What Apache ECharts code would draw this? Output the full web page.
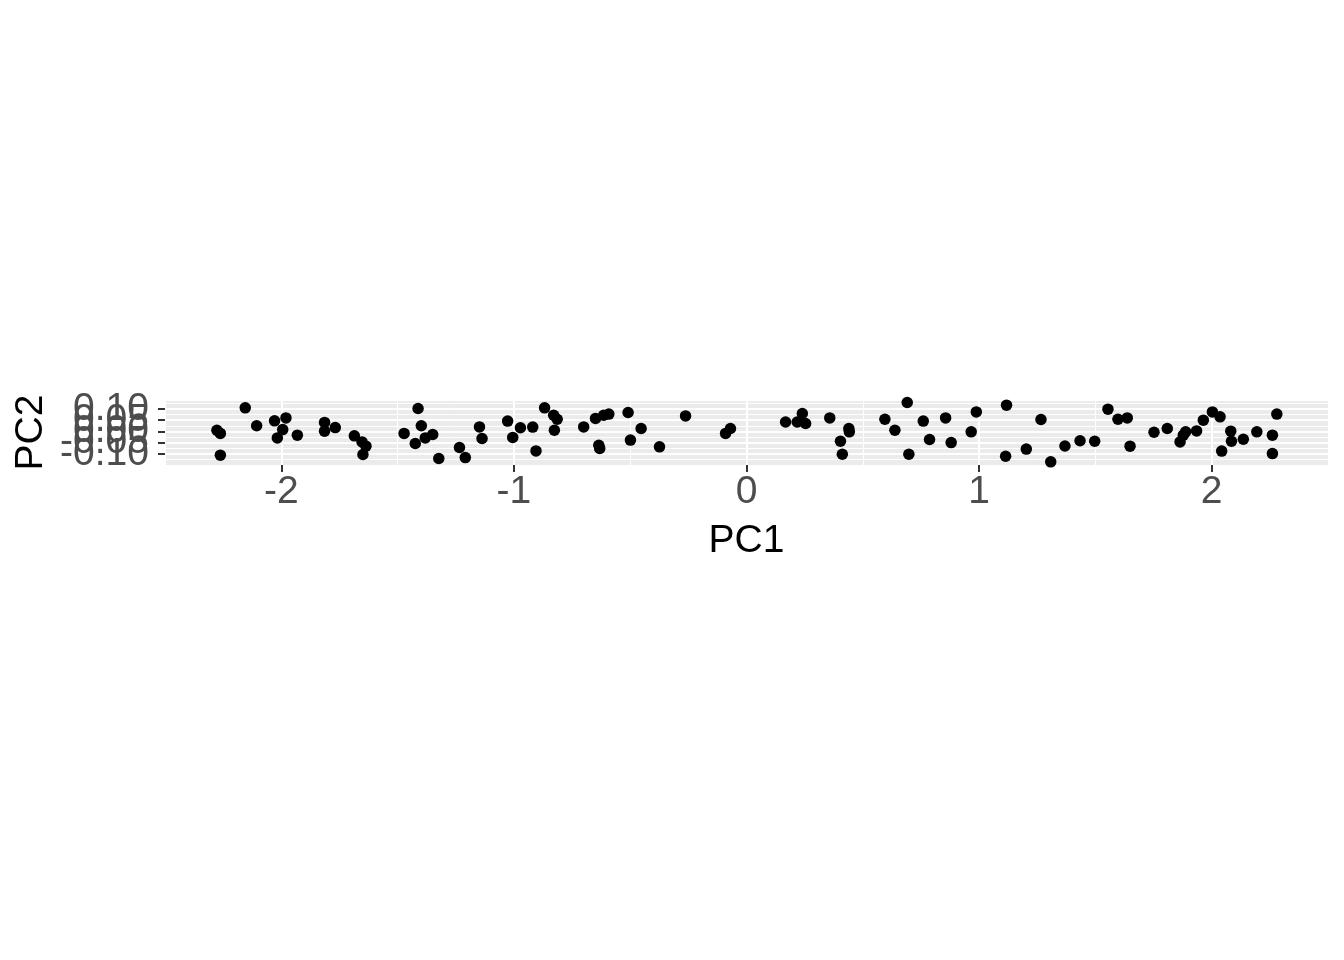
<!DOCTYPE html>
<html>
<head>
<meta charset="utf-8">
<title>PC1 vs PC2</title>
<script src="https://cdn.jsdelivr.net/npm/echarts@6/dist/echarts.min.js"></script>
<style>
  html, body { margin: 0; padding: 0; background: #fff; }
  #main { width: 1344px; height: 960px; }
</style>
</head>
<body>
<div id="main"></div>
<script>
  // values
  var pc1 = [
    -2.277, -2.262, -2.262, -2.155, -2.106, -2.029, -1.980, -1.994, -2.017, -1.931,
    -1.814, -1.814, -1.768, -1.686, -1.653, -1.636, -1.649, -1.472, -1.412, -1.398,
    -1.424, -1.381, -1.349, -1.323, -1.234, -1.209, -1.148, -1.137, -1.027, -1.005,
    -0.972, -0.919, -0.905, -0.868, -0.829, -0.814, -0.826, -0.700, -0.649, -0.614,
    -0.592, -0.635, -0.631, -0.509, -0.499, -0.453, -0.374, -0.262, -0.090, -0.069,
    0.168, 0.218, 0.240, 0.254, 0.358, 0.404, 0.440, 0.442, 0.412, 0.595,
    0.638, 0.691, 0.698, 0.760, 0.787, 0.856, 0.880, 0.966, 0.988, 1.118,
    1.114, 1.203, 1.266, 1.308, 1.369, 1.434, 1.497, 1.554, 1.597, 1.637,
    1.649, 1.752, 1.809, 1.864, 1.878, 1.888, 1.935, 1.964, 2.003, 2.036,
    2.043, 2.082, 2.085, 2.136, 2.194, 2.261, 2.280, 2.261
  ];
  var pc2 = [
    0.005, -0.009, -0.106, 0.105, 0.025, 0.047, 0.060, 0.008, -0.029, -0.017,
    0.040, 0.001, 0.017, -0.020, -0.047, -0.066, -0.103, -0.009, 0.102, 0.025,
    -0.054, -0.029, -0.014, -0.121, -0.072, -0.117, 0.020, -0.032, 0.046, -0.027,
    0.016, 0.019, -0.087, 0.105, 0.072, 0.054, 0.005, 0.020, 0.058, 0.072,
    0.077, -0.062, -0.076, 0.084, -0.039, 0.013, -0.069, 0.069, -0.009, 0.013,
    0.042, 0.042, 0.080, 0.035, 0.060, -0.044, 0.013, -0.002, -0.102, 0.054,
    0.005, 0.129, -0.102, 0.046, -0.036, 0.060, -0.050, -0.002, 0.087, 0.117,
    -0.111, -0.079, 0.053, -0.136, -0.065, -0.042, -0.044, 0.099, 0.054, 0.060,
    -0.066, -0.004, 0.013, -0.047, -0.017, -0.002, 0.002, 0.050, 0.087, 0.065,
    -0.088, 0.001, -0.044, -0.035, -0.002, -0.017, 0.077, -0.099
  ];
  var xTicks = [-2, -1, 0, 1, 2];
  var yTicks = [0, 0.1, -0.1, 0.05, -0.05];

  var points = pc1.map(function (v, i) { return [v, pc2[i]]; });

  var font = 'Liberation Sans, Arial, Helvetica, sans-serif';
  var chart = echarts.init(document.getElementById('main'));

  // the y labels overlap like in the original, so each gets its own axis
  // (otherwise echarts drops the crowded ones)
  var yAxes = yTicks.map(function (t, i) {
    return {
      type: 'value', min: -0.15, max: 0.14, position: 'left',
      name: i === 0 ? 'PC2' : '', nameLocation: 'middle', nameGap: 114, nameRotate: 90,
      nameTextStyle: { color: '#000', fontSize: 39, fontFamily: font },
      axisLine: { show: false, onZero: false },
      axisTick: { show: true, length: 7, customValues: [t], lineStyle: { color: '#333', width: 2 } },
      axisLabel: { customValues: [t], showMinLabel: true, showMaxLabel: true,
        margin: 16, color: '#4D4D4D', fontSize: 39, fontFamily: font,
        formatter: function (v) { return v.toFixed(2); } },
      splitLine: { show: true, lineStyle: { color: '#fff', width: 2 } }
    };
  });
  // minor grid lines
  yAxes.push({
    type: 'value', min: -0.15, max: 0.14, interval: 0.025, position: 'right',
    axisLine: { show: false, onZero: false }, axisTick: { show: false }, axisLabel: { show: false },
    splitLine: { show: true, lineStyle: { color: '#fff', width: 1 } }
  });

  var option = {
    backgroundColor: '#ffffff',
    animation: false,
    grid: {
      left: 165, right: 16, top: 400, height: 65,
      show: true, backgroundColor: '#EBEBEB', borderWidth: 0
    },
    xAxis: [
      {
        type: 'value', min: -2.5, max: 2.5,
        name: 'PC1', nameLocation: 'middle', nameGap: 57,
        nameTextStyle: { color: '#000', fontSize: 39, fontFamily: font },
        axisLine: { show: false, onZero: false },
        axisTick: { show: true, length: 7, customValues: xTicks, lineStyle: { color: '#333', width: 2 } },
        axisLabel: { customValues: xTicks, showMinLabel: true, showMaxLabel: true,
          margin: 8, color: '#4D4D4D', fontSize: 39, fontFamily: font },
        splitLine: { show: true, lineStyle: { color: '#fff', width: 2 } }
      },
      {
        // minor grid lines
        type: 'value', min: -2.5, max: 2.5, interval: 0.5, position: 'top',
        axisLine: { show: false, onZero: false }, axisTick: { show: false }, axisLabel: { show: false },
        splitLine: { show: true, lineStyle: { color: '#fff', width: 1 } }
      }
    ],
    yAxis: yAxes,
    series: [
      {
        type: 'scatter',
        xAxisIndex: 0, yAxisIndex: 0,
        symbolSize: 11.5,
        itemStyle: { color: '#000', opacity: 1 },
        data: points
      }
    ]
  };
  chart.setOption(option);
</script>
</body>
</html>
